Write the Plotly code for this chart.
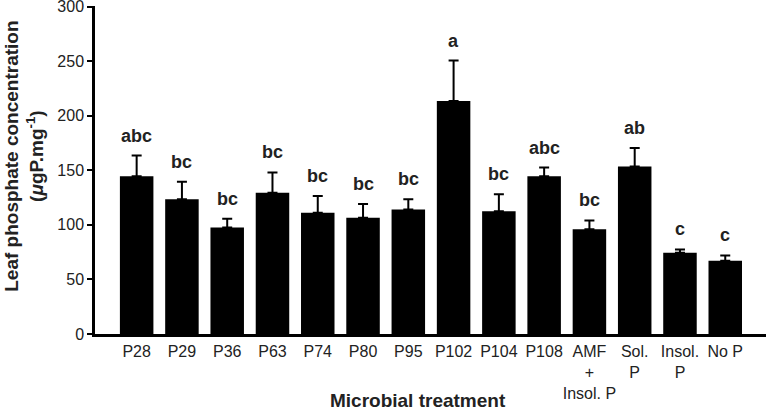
import plotly.graph_objects as go

categories = ["P28", "P29", "P36", "P63", "P74", "P80", "P95", "P102", "P104", "P108",
              "AMF<br>+<br>Insol. P", "Sol.<br>P", "Insol.<br>P", "No P"]
means = [144.5, 123.5, 97.5, 129.5, 111, 106.5, 114, 213.5, 112.5, 144.5, 96, 153.5, 74.5, 67]
errors = [19, 16, 8, 18.5, 15.5, 12.5, 9.5, 37, 15.5, 8, 8, 17, 3, 5]
letters = ["abc", "bc", "bc", "bc", "bc", "bc", "bc", "a", "bc", "abc", "bc", "ab", "c", "c"]
y_ticks = [0, 50, 100, 150, 200, 250, 300]

xs = list(range(len(categories)))

fig = go.Figure()
fig.add_trace(go.Bar(
    x=xs, y=means,
    marker=dict(color="black", line=dict(width=0)),
    width=0.74,
    error_y=dict(type="data", array=errors, arrayminus=[0] * len(errors), symmetric=False,
                 color="black", thickness=2, width=5),
))

for x, m, e, l in zip(xs, means, errors, letters):
    fig.add_annotation(x=x, y=m + e, text=l, showarrow=False, yanchor="bottom", yshift=8,
                       font=dict(family="Liberation Sans, Arial", size=18, color="#222", weight="bold"))

fig.add_annotation(xref="paper", yref="paper", x=0.482, y=-0.204, text="Microbial treatment",
                   showarrow=False, xanchor="center", yanchor="middle",
                   font=dict(family="Liberation Sans, Arial", size=19, color="#222", weight="bold"))
fig.add_annotation(xref="paper", yref="paper", x=-0.106, y=0.543,
                   text="Leaf phosphate concentration<br>(<i>μ</i>gP.mg<sup>-1</sup>)",
                   textangle=-90, showarrow=False, xanchor="center", yanchor="middle",
                   font=dict(family="Liberation Sans, Arial", size=19, color="#222", weight="bold"))

fig.update_layout(
    width=766, height=409,
    margin=dict(l=95, r=0, t=6, b=75, autoexpand=False),
    plot_bgcolor="white", paper_bgcolor="white",
    showlegend=False,
    font=dict(family="Liberation Sans, Arial", size=16, color="#222"),
)
fig.update_xaxes(
    range=[-0.92, 13.9], tickvals=xs, ticktext=categories, tickangle=0, automargin=False,
    showline=True, linecolor="black", linewidth=2.5, ticks="", showgrid=False, zeroline=False,
    ticklabelstandoff=1, tickfont=dict(size=16), ticklabeloverflow="allow",
)
fig.update_yaxes(
    range=[0, 300.5], tickvals=y_ticks, automargin=False,
    showline=True, linecolor="black", linewidth=2.5, ticks="outside", ticklen=5, tickwidth=2,
    tickcolor="black", showgrid=False, zeroline=False, tickfont=dict(size=16),
    ticklabeloverflow="allow",
)

fig.write_html("out.html", config={"displayModeBar": False},
               post_script="document.body.style.margin='0';")
